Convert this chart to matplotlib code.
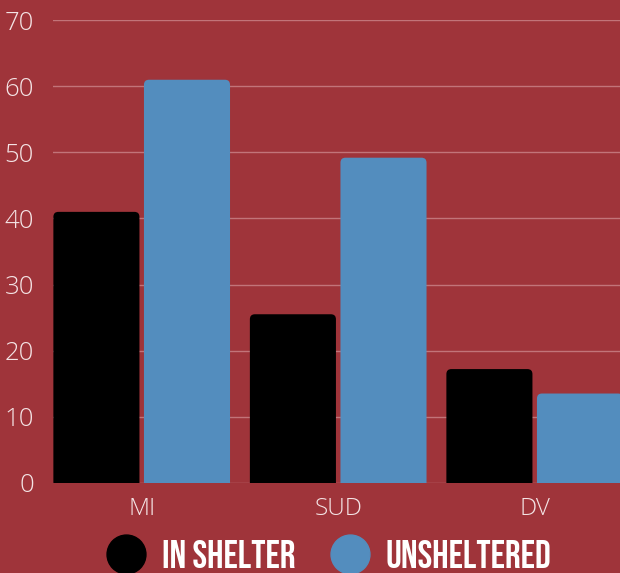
import matplotlib
matplotlib.use('Agg')
import matplotlib.pyplot as plt
from matplotlib.patches import FancyBboxPatch
from matplotlib.lines import Line2D
from matplotlib import font_manager as fm
import numpy as np

categories = ['MI', 'SUD', 'DV']
in_shelter = [41, 25.5, 17.2]
unsheltered = [61, 49.2, 13.5]
series_names = ['IN SHELTER', 'UNSHELTERED']
y_ticks = [0, 10, 20, 30, 40, 50, 60, 70]

BG = '#9F343A'
BLACK = '#000000'
BLUE = '#538DBE'
GRID = '#C27479'
TXT = '#F4E4E5'

W, H = 620, 573
fig = plt.figure(figsize=(6.2, 5.73), dpi=100, facecolor=BG)
ax_l, ax_r, ax_top, ax_bot = 53, 620, 20.3, 482.7
ax = fig.add_axes([ax_l / W, (H - ax_bot) / H, (ax_r - ax_l) / W, (ax_bot - ax_top) / H])
ax.set_facecolor(BG)

x = np.arange(len(categories))
bw = 0.438
off = 0.2305
xlim = (-0.4514, -0.4514 + (ax_r - ax_l) / 196.5)
ylim = (0, 70)
ax.set_xlim(*xlim)
ax.set_ylim(*ylim)

px_x = (ax_r - ax_l) / (xlim[1] - xlim[0])
px_y = (ax_bot - ax_top) / (ylim[1] - ylim[0])
r_px = 5
rx = r_px / px_x
aspect = (r_px / px_y) / rx

for vals, col, sign in [(in_shelter, BLACK, -1), (unsheltered, BLUE, 1)]:
    bars = ax.bar(x + sign * off, vals, bw, color=col, zorder=3)
    for rect in bars:
        rect.set_visible(False)
        x0, w, h = rect.get_x(), rect.get_width(), rect.get_height()
        p = FancyBboxPatch((x0, -3), w, h + 3,
                           boxstyle=f"round,pad=0,rounding_size={rx}",
                           mutation_aspect=aspect, fc=col, ec='none', zorder=3)
        ax.add_patch(p)

ax.set_yticks(y_ticks)
ax.set_xticks(x)
ax.set_xticklabels(categories)
ax.yaxis.grid(True, color=GRID, lw=1)
ax.set_axisbelow(True)
for s in ax.spines.values():
    s.set_visible(False)
ax.tick_params(axis='y', length=0, pad=13.7, labelsize=18.5, labelcolor=TXT)
ax.tick_params(axis='x', length=0, pad=10, labelsize=17.5, labelcolor=TXT)
for lab in ax.get_xticklabels() + ax.get_yticklabels():
    lab.set_fontfamily(['Open Sans', 'DejaVu Sans'])
    lab.set_fontweight('light')


# ---- choose a condensed bold font for the legend if one is installed ----
def stretch_val(s):
    m = {'ultra-condensed': 100, 'extra-condensed': 200, 'condensed': 300,
         'semi-condensed': 400, 'normal': 500}
    if isinstance(s, str):
        return m.get(s, 500)
    return s


def weight_val(wt):
    if isinstance(wt, str):
        return {'bold': 700, 'heavy': 800, 'black': 900, 'semibold': 600,
                'demibold': 600, 'normal': 400, 'regular': 400}.get(wt, 400)
    return wt


best = None
best_score = None
for f in fm.fontManager.ttflist:
    name = f.name.lower()
    fname = f.fname.lower()
    st = stretch_val(f.stretch)
    cond = st < 500 or 'condensed' in name or 'narrow' in name or 'condensed' in fname \
        or 'narrow' in fname or 'bebas' in name or 'oswald' in name
    if not cond:
        continue
    if 'cjk' in name or 'mono' in name or 'serif' in name and 'sans' not in name:
        continue
    wv = weight_val(f.weight)
    if 'bold' in fname and wv < 600:
        wv = 700
    score = -abs(wv - 700) / 100 - (st / 100 if st < 500 else 2) * 0.5
    if 'bebas' in name or 'oswald' in name:
        score += 10
    if best_score is None or score > best_score:
        best, best_score = f, score

if best is not None:
    leg_prop = fm.FontProperties(fname=best.fname)
else:
    leg_prop = fm.FontProperties(family=['DejaVu Sans'], weight='bold')

# fit font size so that "IN SHELTER" is ~133 px wide
renderer = fig.canvas.get_renderer()
tmp = fig.text(0, 0, series_names[0], fontproperties=leg_prop)
tmp.set_fontsize(20)
wpx = tmp.get_window_extent(renderer).width
tmp.remove()
fs = min(20 * 133.0 / wpx, 30)
leg_prop.set_size(fs)
fs_px = fs * 100 / 72

handle_starts = [106, 330]
text_cy = 554
for name, col, hx in zip(series_names, [BLACK, BLUE], handle_starts):
    hnd = Line2D([], [], marker='o', ms=28, color=col, ls='none')
    leg = fig.legend([hnd], [name], loc='center left',
                     bbox_to_anchor=(hx / W, 1 - text_cy / H),
                     bbox_transform=fig.transFigure, frameon=False,
                     borderpad=0, borderaxespad=0, prop=leg_prop,
                     handlelength=39 / fs_px, handletextpad=(161.7 - 145) / fs_px,
                     labelcolor='white')

fig.savefig('out.png', dpi=100, facecolor=BG)
